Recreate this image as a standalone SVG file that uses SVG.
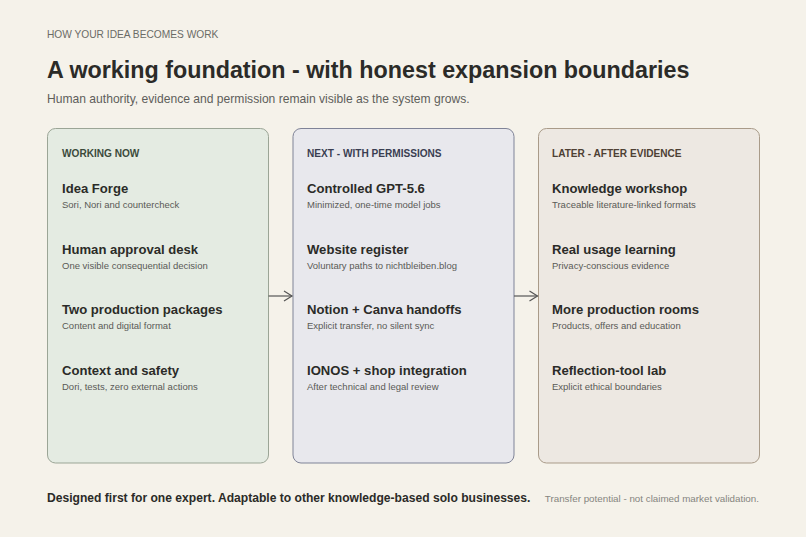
<svg xmlns="http://www.w3.org/2000/svg" width="806" height="537" viewBox="0 0 806 537">
<defs>
<marker id="chev" markerWidth="12" markerHeight="12" refX="10" refY="6" orient="auto" markerUnits="userSpaceOnUse">
<path d="M2,1 L10,6 L2,11" fill="none" stroke="#555" stroke-width="1.2"/>
</marker>
<style>
text{font-family:"Liberation Sans",Arial,sans-serif}
.eyebrow{font-size:10.2px;fill:#6b6b66}
.title{font-size:23.3px;font-weight:bold;fill:#2b2b28}
.sub{font-size:12.1px;fill:#5e5e5a}
.hdr{font-size:10.1px;font-weight:bold}
.it{font-size:13.1px;font-weight:bold;fill:#2b2b28}
.is{font-size:9.5px;fill:#5a5a56}
.foot{font-size:12.1px;font-weight:bold;fill:#2b2b28}
.note{font-size:9.8px;fill:#858580}
.conn{stroke:#555;stroke-width:1.2;fill:none}
</style>
</defs>
<rect width="806" height="537" fill="#f5f2ea"/>
<text class="eyebrow" x="47" y="37.5">HOW YOUR IDEA BECOMES WORK</text>
<text class="title" x="47" y="78">A working foundation - with honest expansion boundaries</text>
<text class="sub" x="47" y="103">Human authority, evidence and permission remain visible as the system grows.</text>

<g id="col-now">
<rect x="47.5" y="128.5" width="221" height="334.5" rx="8" fill="#e4ebe2" stroke="#9ba596" stroke-width="1"/>
<text class="hdr" x="62" y="157" fill="#3b4a3b">WORKING NOW</text>
<text class="it" x="62" y="193">Idea Forge</text>
<text class="is" x="62" y="208">Sori, Nori and countercheck</text>
<text class="it" x="62" y="253.5">Human approval desk</text>
<text class="is" x="62" y="268.5">One visible consequential decision</text>
<text class="it" x="62" y="314">Two production packages</text>
<text class="is" x="62" y="329">Content and digital format</text>
<text class="it" x="62" y="374.5">Context and safety</text>
<text class="is" x="62" y="389.5">Dori, tests, zero external actions</text>
</g>

<g id="col-next">
<rect x="293" y="128.5" width="221" height="334.5" rx="8" fill="#e8e8ed" stroke="#7f8397" stroke-width="1"/>
<text class="hdr" x="307" y="157" fill="#3a3e52">NEXT - WITH PERMISSIONS</text>
<text class="it" x="307" y="193">Controlled GPT-5.6</text>
<text class="is" x="307" y="208">Minimized, one-time model jobs</text>
<text class="it" x="307" y="253.5">Website register</text>
<text class="is" x="307" y="268.5">Voluntary paths to nichtbleiben.blog</text>
<text class="it" x="307" y="314">Notion + Canva handoffs</text>
<text class="is" x="307" y="329">Explicit transfer, no silent sync</text>
<text class="it" x="307" y="374.5">IONOS + shop integration</text>
<text class="is" x="307" y="389.5">After technical and legal review</text>
</g>

<g id="col-later">
<rect x="538.5" y="128.5" width="221" height="334.5" rx="8" fill="#ede8e2" stroke="#a99b89" stroke-width="1"/>
<text class="hdr" x="552" y="157" fill="#4e4034">LATER - AFTER EVIDENCE</text>
<text class="it" x="552" y="193">Knowledge workshop</text>
<text class="is" x="552" y="208">Traceable literature-linked formats</text>
<text class="it" x="552" y="253.5">Real usage learning</text>
<text class="is" x="552" y="268.5">Privacy-conscious evidence</text>
<text class="it" x="552" y="314">More production rooms</text>
<text class="is" x="552" y="329">Products, offers and education</text>
<text class="it" x="552" y="374.5">Reflection-tool lab</text>
<text class="is" x="552" y="389.5">Explicit ethical boundaries</text>
</g>

<g id="connectors">
<line class="conn" x1="268.5" y1="296" x2="292" y2="296" marker-end="url(#chev)"/>
<line class="conn" x1="514" y1="296" x2="537.5" y2="296" marker-end="url(#chev)"/>
</g>

<text class="foot" x="47" y="501.5">Designed first for one expert. Adaptable to other knowledge-based solo businesses.</text>
<text class="note" x="759" y="501.5" text-anchor="end">Transfer potential - not claimed market validation.</text>
</svg>
